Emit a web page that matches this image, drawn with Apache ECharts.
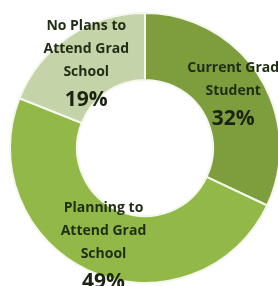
<!DOCTYPE html>
<html><head><meta charset="utf-8">
<script src="https://cdn.jsdelivr.net/npm/echarts@6/dist/echarts.min.js"></script>
<style>html,body{margin:0;padding:0;background:#fff}#c{width:278px;height:286px}</style>
</head><body><div id="c"></div>
<script>
const categories = ['Current Grad\nStudent', 'Planning to\nAttend Grad\nSchool', 'No Plans to\nAttend Grad\nSchool'];
const values = [32, 49, 19];
const colors = ['#7e9e3e', '#92b947', '#c4d4a8'];
const chart = echarts.init(document.getElementById('c'));
chart.setOption({
  animation: false,
  series: [{
    type: 'pie',
    center: [145, 148],
    radius: [68, 135],
    startAngle: 90,
    clockwise: true,
    data: categories.map((n, i) => ({ name: n, value: values[i], itemStyle: { color: colors[i] } })),
    itemStyle: { borderColor: '#f4f8ec', borderWidth: 2 },
    label: {
      show: true,
      position: 'inside',
      padding: [8, 0, 0, 0],
      formatter: p => '{n|' + p.name.split('\n').join('}\n{n|') + '}\n{p|' + p.value + '%}',
      rich: {
        n: { fontFamily: 'Open Sans', fontWeight: 'bold', fontSize: 14, lineHeight: 23, color: '#1f2d14' },
        p: { fontFamily: 'Open Sans', fontWeight: 'bold', fontSize: 21, lineHeight: 33, color: '#1a2410' }
      }
    },
    labelLine: { show: false }
  }]
});
</script></body></html>
